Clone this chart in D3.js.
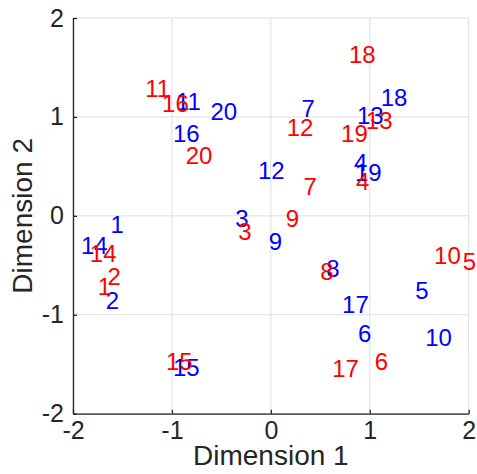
<!DOCTYPE html>
<html>
<head>
<meta charset="utf-8">
<script src="https://cdn.jsdelivr.net/npm/d3@7"></script>
<style>
  body { margin: 0; background: #fff; }
  svg { display: block; font-family: "Liberation Sans", Arial, Helvetica, sans-serif; }
</style>
</head>
<body>
<svg id="chart"></svg>
<script>
// point labels 1..20, two configurations
const labels = d3.range(1, 21).map(String);

const blueX = [-1.62, -1.67, -0.36, 0.84, 1.46, 0.88, 0.31, 0.56, -0.02, 1.56,
               -0.96, -0.13, 0.87, -1.92, -0.99, -0.99, 0.72, 1.11, 0.85, -0.61];
const blueY = [-0.09, -0.86, -0.03, 0.54, -0.75, -1.19, 1.09, -0.53, -0.26, -1.23,
               1.16, 0.46, 1.01, -0.30, -1.53, 0.83, -0.90, 1.20, 0.44, 1.05];

const redX = [-1.75, -1.65, -0.33, 0.86, 1.94, 1.05, 0.33, 0.50, 0.15, 1.65,
              -1.27, 0.16, 0.96, -1.83, -1.06, -1.10, 0.62, 0.79, 0.71, -0.86];
const redY = [-0.71, -0.61, -0.16, 0.35, -0.46, -1.47, 0.30, -0.56, -0.03, -0.40,
              1.29, 0.89, 0.96, -0.38, -1.47, 1.14, -1.54, 1.63, 0.83, 0.61];

const xTicks = [-2, -1, 0, 1, 2];
const yTicks = [-2, -1, 0, 1, 2];

const width = 477, height = 474;
const margin = { top: 18, right: 8.3, bottom: 60.3, left: 73 };
const plotW = width - margin.left - margin.right;
const plotH = height - margin.top - margin.bottom;
const axisColor = "#262626";

const svg = d3.select("#chart").attr("width", width).attr("height", height);
const g = svg.append("g").attr("transform", `translate(${margin.left},${margin.top})`);

const x = d3.scaleLinear().domain([-2, 2]).range([0, plotW]);
const y = d3.scaleLinear().domain([-2, 2]).range([plotH, 0]);

// grid
g.append("g")
  .selectAll("line")
  .data(xTicks)
  .join("line")
  .attr("x1", d => x(d)).attr("x2", d => x(d))
  .attr("y1", 0).attr("y2", plotH)
  .attr("stroke", "#dedede").attr("stroke-width", 1);
g.append("g")
  .selectAll("line")
  .data(yTicks)
  .join("line")
  .attr("x1", 0).attr("x2", plotW)
  .attr("y1", d => y(d)).attr("y2", d => y(d))
  .attr("stroke", "#dedede").attr("stroke-width", 1);

// text markers
function drawSet(xs, ys, color) {
  g.append("g")
    .selectAll("text")
    .data(labels)
    .join("text")
    .attr("x", (d, i) => x(xs[i]))
    .attr("y", (d, i) => y(ys[i]))
    .attr("dominant-baseline", "central")
    .style("font-size", "24px")
    .attr("fill", color)
    .text(d => d);
}
drawSet(blueX, blueY, "#0000ff");
drawSet(redX, redY, "#ff0000");

// axes, ticks pointing inward
const fmt = d => String(d);
const xAxis = g.append("g")
  .attr("transform", `translate(0,${plotH})`)
  .call(d3.axisBottom(x).tickValues(xTicks).tickFormat(fmt).tickSize(-4).tickPadding(8).tickSizeOuter(0));
const yAxis = g.append("g")
  .call(d3.axisLeft(y).tickValues(yTicks).tickFormat(fmt).tickSize(-4).tickPadding(9).tickSizeOuter(0));

[xAxis, yAxis].forEach(ax => {
  ax.select(".domain").attr("stroke", axisColor).attr("stroke-width", 1.3);
  ax.selectAll(".tick line").attr("stroke", axisColor).attr("stroke-width", 1.3);
  ax.selectAll(".tick text")
    .attr("fill", axisColor)
    .style("font-size", "25px")
    .style("font-family", "'Liberation Sans', Arial, sans-serif");
});

// axis labels
svg.append("text")
  .attr("x", margin.left + plotW / 2)
  .attr("y", 465)
  .attr("text-anchor", "middle")
  .attr("fill", axisColor)
  .style("font-size", "28px")
  .text("Dimension 1");

svg.append("text")
  .attr("transform", `translate(31.5,${margin.top + plotH / 2}) rotate(-90)`)
  .attr("text-anchor", "middle")
  .attr("fill", axisColor)
  .style("font-size", "28px")
  .text("Dimension 2");
</script>
</body>
</html>
